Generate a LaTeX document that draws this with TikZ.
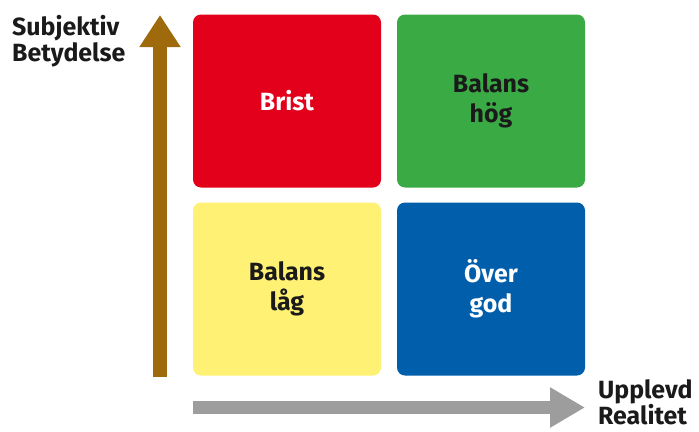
\documentclass[tikz,border=0pt]{standalone}
\usepackage{fontspec}
\setmainfont{Fira Sans}
\usetikzlibrary{arrows.meta}

\definecolor{qred}{HTML}{E2001A}
\definecolor{qgreen}{HTML}{3AAA45}
\definecolor{qyellow}{HTML}{FFF173}
\definecolor{qblue}{HTML}{005EAA}
\definecolor{axisbrown}{HTML}{9E6A0C}
\definecolor{axisgray}{HTML}{9D9D9D}
\definecolor{ink}{HTML}{1A1A1A}

\tikzset{
  quad/.style={rounded corners=8bp, minimum width=188bp, minimum height=173bp,
    inner sep=0pt, align=center, font=\bfseries\fontsize{25}{30}\selectfont},
  axislabel/.style={inner sep=0pt, align=left, text=ink,
    font=\bfseries\fontsize{25}{26}\selectfont},
}

\begin{document}
\begin{tikzpicture}[x=1bp, y=-1bp]
  \useasboundingbox (0,0) rectangle (699,431);

  % four quadrants
  \node[quad, fill=qred, text=white]   (brist) at (287,101) {Brist};
  \node[quad, fill=qgreen, text=ink]   (hog)   at (491,101) {Balans\\hög};
  \node[quad, fill=qyellow, text=ink]  (lag)   at (287,289) {Balans\\låg};
  \node[quad, fill=qblue, text=white]  (over)  at (491,289) {Över\\god};

  % axes
  \coordinate (ybot) at (160,377);
  \coordinate (ytop) at (160,15);
  \coordinate (xleft) at (193,407.5);
  \coordinate (xright) at (585,407.5);
  \draw[axisbrown, line width=14bp, -{Triangle[width=39bp,length=32bp]}] (ybot) -- (ytop);
  \draw[axisgray, line width=13bp, -{Triangle[width=38bp,length=35bp]}] (xleft) -- (xright);

  % axis titles
  \node[axislabel, anchor=north west] (ylab) at (12,15) {Subjektiv\\Betydelse};
  \node[axislabel, anchor=north west] (xlab) at (598,379) {Upplevd\\Realitet};
\end{tikzpicture}
\end{document}
